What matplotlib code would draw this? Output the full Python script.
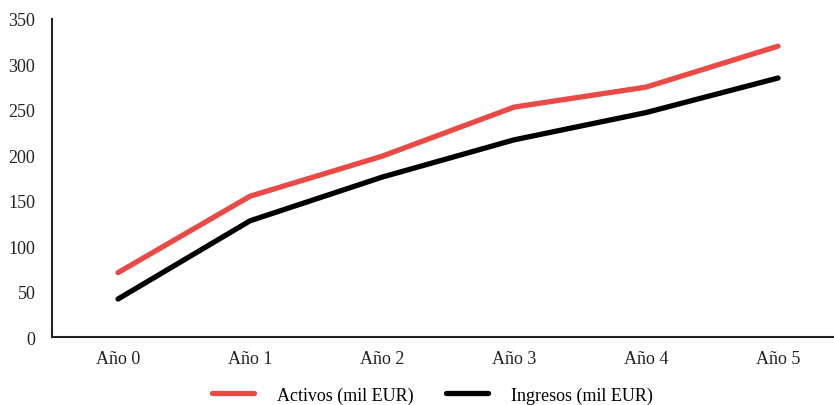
import matplotlib.pyplot as plt

plt.rcParams['font.family'] = ['Liberation Serif', 'DejaVu Serif']

years = ["Año 0", "Año 1", "Año 2", "Año 3", "Año 4", "Año 5"]
activos = [71, 155, 199, 253, 275, 320]
ingresos = [42, 128, 176, 217, 247, 285]

fig = plt.figure(figsize=(8.34, 4.06), dpi=100)
ax = fig.add_axes([0.0624, 0.167, 0.937, 0.784])

x = range(len(years))
ax.plot(x, activos, color="#ea4a45", linewidth=3.8, solid_capstyle="round", label="Activos (mil EUR)")
ax.plot(x, ingresos, color="black", linewidth=3.8, solid_capstyle="round", label="Ingresos (mil EUR)")

ax.set_xlim(-0.5, 5.42)
ax.set_ylim(0, 350)
ax.set_yticks(range(0, 351, 50))
ax.set_xticks(list(x))
ax.set_xticklabels(years)
ax.tick_params(length=0, labelsize=13, colors="#222222")
ax.tick_params(axis="y", pad=12)
ax.tick_params(axis="x", pad=9)

for s in ["top", "right"]:
    ax.spines[s].set_visible(False)
for s in ["left", "bottom"]:
    ax.spines[s].set_color("#222222")
    ax.spines[s].set_linewidth(1.5)

fig.legend(loc="lower center", bbox_to_anchor=(0.519, -0.037), ncol=2, frameon=False,
           fontsize=13, handlelength=2.3, columnspacing=1.8, handletextpad=1.3)

fig.savefig("out.png", dpi=100)
